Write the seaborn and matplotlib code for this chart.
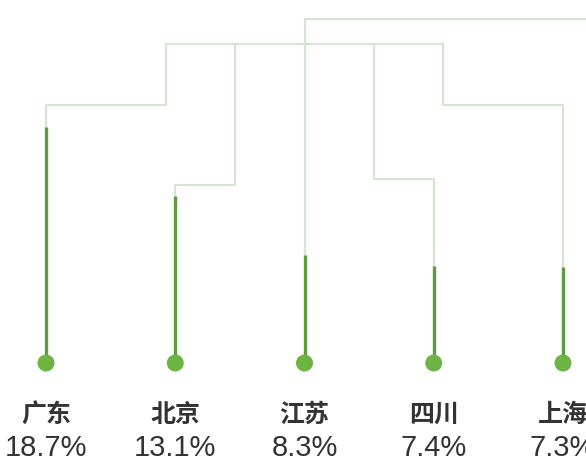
import matplotlib
matplotlib.use("Agg")
import matplotlib.pyplot as plt
import seaborn as sns
import pandas as pd

# ---- data ----
provinces = ["广东", "北京", "江苏", "四川", "上海"]
shares = [18.7, 13.1, 8.3, 7.4, 7.3]
share_labels = ["18.7%", "13.1%", "8.3%", "7.4%", "7.3%"]

# ---- style / layout (axis units: x = category index, y = percent) ----
STEM = "#5c9c3e"
DOT = "#6db443"
LIGHT = "#d6e4d3"
TEXT = "#333333"

sns.set_theme(style="white")
plt.rcParams["font.family"] = ["Noto Sans CJK SC", "DejaVu Sans"]

df = pd.DataFrame({"x": range(len(provinces)), "share": shares, "name": provinces})

fig = plt.figure(figsize=(5.86, 4.62), dpi=100)
ax = fig.add_axes([0, 0, 1, 1])
fig.patch.set_facecolor("white")

dot_y = -0.52
# decorative tree connectors (layout levels, in percent units)
lvl_low = 20.5
lvl_mid = 25.45
lvl_top = 27.5
xs = df["x"].tolist()
c = xs[2]
lw_l = 1.6
# 广东 branch
ax.plot([xs[0], xs[0], c - 1.07, c - 1.07], [shares[0], lvl_low, lvl_low, lvl_mid], color=LIGHT, lw=lw_l, zorder=1)
# 北京 branch
ax.plot([xs[1], xs[1], c - 0.54, c - 0.54], [shares[1], 13.97, 13.97, lvl_mid], color=LIGHT, lw=lw_l, zorder=1)
# 四川 branch
ax.plot([xs[3], xs[3], c + 0.54, c + 0.54], [shares[3], 14.5, 14.5, lvl_mid], color=LIGHT, lw=lw_l, zorder=1)
# 上海 branch
ax.plot([xs[4], xs[4], c + 1.07, c + 1.07], [shares[4], lvl_low, lvl_low, lvl_mid], color=LIGHT, lw=lw_l, zorder=1)
# middle horizontal
ax.plot([c - 1.07, c + 1.07], [lvl_mid, lvl_mid], color=LIGHT, lw=lw_l, zorder=1)
# 江苏 trunk to top and off to the right
ax.plot([c, c, 5.0], [shares[2], lvl_top, lvl_top], color=LIGHT, lw=lw_l, zorder=1)

# stems
ax.vlines(df["x"], 0, df["share"], color=STEM, lw=2.4, zorder=2)
# dots
sns.scatterplot(x=df["x"], y=[dot_y] * len(df), s=150, color=DOT, edgecolor="none", ax=ax, zorder=3, legend=False)

for i, (n, lab) in enumerate(zip(provinces, share_labels)):
    ax.text(xs[i], -4.76, n, ha="center", va="center", fontsize=18, color=TEXT,
            fontweight="bold", family=["Noto Sans CJK SC", "DejaVu Sans"])
    ax.text(xs[i], -7.44, lab, ha="center", va="center", fontsize=21, color=TEXT,
            family=["Liberation Sans", "DejaVu Sans"])

ax.set_xlim(-0.356, 4.178)
ax.set_ylim(-8.58, 29.04)
ax.axis("off")

fig.savefig("out.png", dpi=100, facecolor="white")
